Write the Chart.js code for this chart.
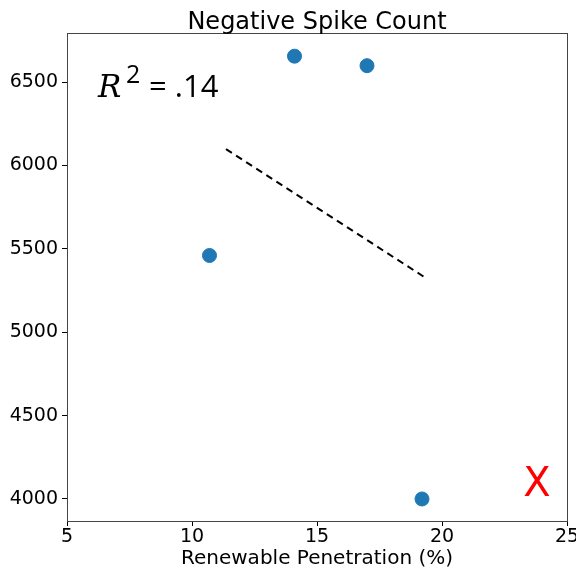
<!DOCTYPE html>
<html>
<head>
<meta charset="utf-8">
<script src="https://cdn.jsdelivr.net/npm/chart.js@4.4.1/dist/chart.umd.min.js"></script>
<style>
  html, body { margin: 0; padding: 0; background: #fff; }
  #wrap { width: 576px; height: 567px; }
</style>
</head>
<body>
<div id="wrap"><canvas id="spikeChart" width="576" height="567"></canvas></div>
<script>
// data
const penetration = [10.7, 14.1, 17.0, 19.2];
const spikeCount = [5460, 6655, 6598, 4000];
const trendX = [11.36, 19.3];
const trendY = [6098, 5330];
const xTicks = [5, 10, 15, 20, 25];
const yTicks = [4000, 4500, 5000, 5500, 6000, 6500];

/* ------------------------------- */
/* FRAME, TITLE AND NOTES */
/* ------------------------------- */

const framePlugin = {
  id: "frame",
  afterDraw(chart) {
    const { ctx, chartArea: a } = chart;
    ctx.save();
    ctx.strokeStyle = "#444";
    ctx.lineWidth = 1;
    ctx.strokeRect(a.left + 0.5, a.top + 0.5, a.right - a.left, a.bottom - a.top);

    ctx.fillStyle = "#000";
    ctx.textAlign = "center";
    ctx.textBaseline = "alphabetic";
    ctx.font = "24px 'DejaVu Sans'";
    ctx.fillText("Negative Spike Count", (a.left + a.right) / 2, 29);

    // R^2 = .14
    ctx.textAlign = "left";
    ctx.font = "italic 31px 'DejaVu Serif'";
    ctx.fillText("R", 98, 97);
    ctx.font = "25px 'Open Sans'";
    ctx.fillText("2", 126, 83);
    ctx.font = "31px 'Open Sans'";
    ctx.fillText("= .14", 149, 97);

    // red X
    const xs = chart.scales.x, ys = chart.scales.y;
    ctx.fillStyle = "#ff0000";
    ctx.textAlign = "center";
    ctx.font = "40px 'DejaVu Sans'";
    ctx.fillText("X", xs.getPixelForValue(23.8), ys.getPixelForValue(4018));
    ctx.restore();
  },
};

function initializeScatter() {
  const canvas = document.getElementById("spikeChart");

  if (!canvas) return;

  const ctx = canvas.getContext("2d");

  new Chart(ctx, {
    type: "scatter",

    data: {
      datasets: [
        {
          label: "trend",
          type: "line",
          data: trendX.map((x, i) => ({ x: x, y: trendY[i] })),
          borderColor: "#000",
          borderWidth: 2,
          borderDash: [7, 5],
          pointRadius: 0,
          fill: false,
        },
        {
          label: "spikes",
          data: penetration.map((x, i) => ({ x: x, y: spikeCount[i] })),
          backgroundColor: "#1f77b4",
          borderColor: "#1f77b4",
          pointRadius: 7,
        },
      ],
    },

    options: {
      responsive: false,
      animation: false,
      layout: { padding: { top: 33, right: 0, left: 0, bottom: 0 } },

      plugins: {
        legend: { display: false },
        title: { display: false },
        tooltip: { enabled: false },
      },

      scales: {
        x: {
          type: "linear",
          min: 5,
          max: 25,
          afterBuildTicks: (s) => { s.ticks = xTicks.map((v) => ({ value: v })); },
          afterFit: (s) => { s.height = 46; s.paddingRight = 9; },
          border: { display: false },
          grid: { drawOnChartArea: false, drawTicks: true, tickLength: 5, color: "#000" },
          ticks: {
            color: "#000",
            font: { family: "DejaVu Sans", size: 19 },
            padding: 0,
            maxRotation: 0,
            callback: (v) => String(v),
          },
          title: {
            display: true,
            text: "Renewable Penetration (%)",
            color: "#000",
            font: { family: "DejaVu Sans", size: 20 },
            padding: { top: 0, bottom: -4 },
          },
        },
        y: {
          type: "linear",
          min: 3868,
          max: 6794,
          afterBuildTicks: (s) => { s.ticks = yTicks.map((v) => ({ value: v })); },
          afterFit: (s) => { s.width = 67; },
          border: { display: false },
          grid: { drawOnChartArea: false, drawTicks: true, tickLength: 5, color: "#000" },
          ticks: {
            color: "#000",
            font: { family: "DejaVu Sans", size: 19 },
            padding: 4,
            callback: (v) => String(v),
          },
        },
      },
    },

    plugins: [framePlugin],
  });
}

initializeScatter();
</script>
</body>
</html>
